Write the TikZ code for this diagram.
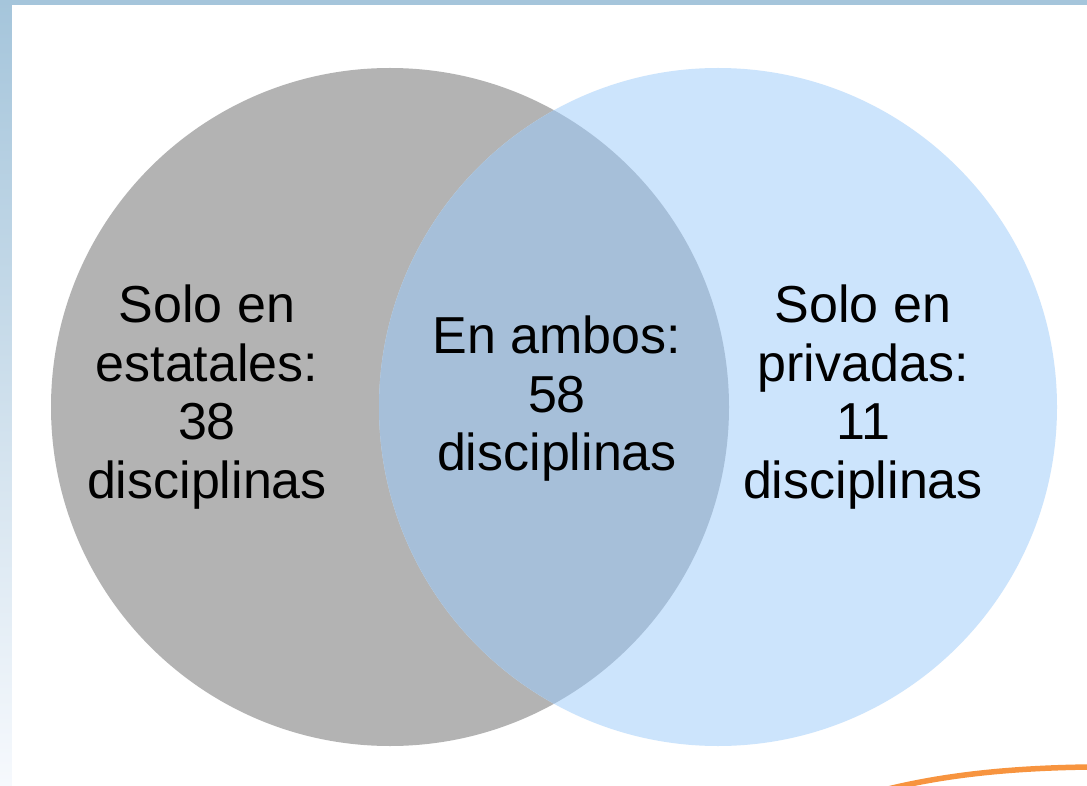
\documentclass[tikz,border=0pt]{standalone}
\usepackage{fontspec}
\setmainfont{Liberation Sans}
\usetikzlibrary{positioning}

\definecolor{framebl}{RGB}{165,197,219}
\definecolor{framewh}{RGB}{246,249,253}
\definecolor{estgray}{RGB}{179,179,179}
\definecolor{privblue}{RGB}{204,228,252}
\definecolor{ambosbl}{RGB}{166,191,217}
\definecolor{curveor}{RGB}{247,148,63}

\begin{document}
\begin{tikzpicture}[
  x=1pt, y=-1pt,
  setlabel/.style={align=center, inner sep=0pt, text=black,
    font=\fontsize{52}{58.5}\selectfont},
  venn/.style={circle, minimum size=678pt, inner sep=0pt, draw=none}]

  \useasboundingbox (0,0) rectangle (1087,786);
  \shade[top color=framebl, bottom color=framewh] (0,0) rectangle (1087,786);
  \fill[white] (12,5) rectangle (1087,786);

  % the two sets
  \node[venn, fill=estgray](est) at (390,407){};
  \node[venn, fill=privblue](priv) at (718,407){};
  \begin{scope}
    \clip (390,407) circle (339pt);
    \fill[ambosbl] (718,407) circle (339pt);
  \end{scope}

  \node[setlabel](soloest) at (207,397){Solo en\\estatales:\\38\\disciplinas};
  \node[setlabel](ambos) at (557,399){En ambos:\\58\\disciplinas};
  \node[setlabel](solopriv) at (863,397){Solo en\\privadas:\\11\\disciplinas};

  \coordinate (orA) at (888,789);
  \coordinate (orB) at (1089,767);
  \draw[curveor, line width=5.5pt] (orA) .. controls (950,774) and (1015,768) .. (orB);
\end{tikzpicture}
\end{document}
